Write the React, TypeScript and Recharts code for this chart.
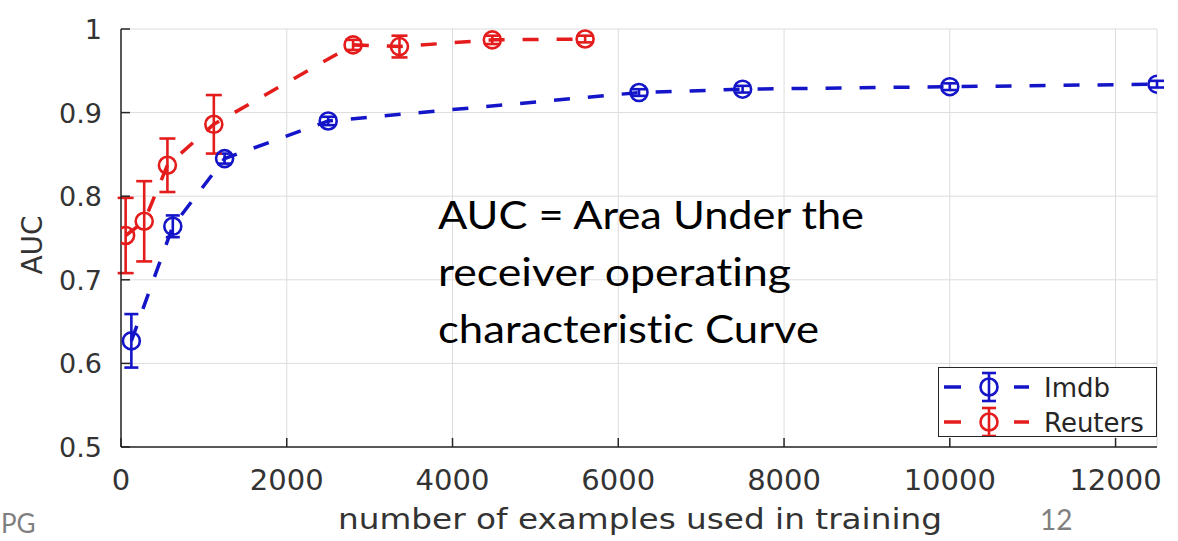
import { CartesianGrid, ComposedChart, ErrorBar, Line, XAxis, YAxis } from "recharts";

const imdbSizes = [125, 625, 1250, 2500, 6250, 7500, 10000, 12500];
const imdbAuc = [0.627, 0.764, 0.845, 0.89, 0.924, 0.928, 0.931, 0.934];
const imdbErr = [0.032, 0.013, 0.006, 0.005, 0.004, 0.004, 0.004, 0.004];

const reutersSizes = [56, 280, 560, 1120, 2800, 3360, 4480, 5600];
const reutersAuc = [0.753, 0.77, 0.837, 0.886, 0.981, 0.979, 0.987, 0.988];
const reutersErr = [0.045, 0.048, 0.032, 0.035, 0.006, 0.013, 0.005, 0.004];

const xTicks = [0, 2000, 4000, 6000, 8000, 10000, 12000];
const yTicks = [0.5, 0.6, 0.7, 0.8, 0.9, 1];

const noteLines = ["AUC = Area Under the", "receiver operating", "characteristic Curve"];
const noteWidths = [426, 353, 381];

const BLUE = "#1414c8";
const RED = "#e41c1c";
const AXIS = "#262626";
const TICK_FONT = "'DejaVu Sans', sans-serif";
const NOTE_FONT = "Lato, sans-serif";

const imdbData = imdbSizes.map((x, i) => ({ x, auc: imdbAuc[i], err: imdbErr[i] }));
const reutersData = reutersSizes.map((x, i) => ({ x, auc: reutersAuc[i], err: reutersErr[i] }));

const XTick = ({ x, y, payload }: any) => (
    <g>
        <line x1={x} x2={x} y1={y} y2={y - 9} stroke={AXIS} strokeWidth={1.5} />
        <text x={x} y={y + 43} textAnchor="middle" fontSize={29} fill="#333" fontFamily={TICK_FONT}>
            {payload.value}
        </text>
    </g>
);

const YTick = ({ x, y, payload }: any) => (
    <g>
        <line x1={x} x2={x + 9} y1={y} y2={y} stroke={AXIS} strokeWidth={1.5} />
        <text x={x - 19} y={y + 10} textAnchor="end" fontSize={27} fill="#333" fontFamily={TICK_FONT}>
            {payload.value}
        </text>
    </g>
);

const circleDot = (color: string) => (props: any) => {
    const { cx, cy, index } = props;
    return <circle key={index} cx={cx} cy={cy} r={8.5} fill="none" stroke={color} strokeWidth={2.6} />;
};

const LegendRow = ({ y, color, label }: { y: number; color: string; label: string }) => (
    <g>
        <line x1={5} x2={22} y1={y} y2={y} stroke={color} strokeWidth={3.5} />
        <line x1={50} x2={50} y1={y - 14} y2={y + 14} stroke={color} strokeWidth={2.6} />
        <line x1={43} x2={57} y1={y - 14} y2={y - 14} stroke={color} strokeWidth={2.6} />
        <line x1={43} x2={57} y1={y + 14} y2={y + 14} stroke={color} strokeWidth={2.6} />
        <circle cx={50} cy={y} r={8.5} fill="none" stroke={color} strokeWidth={2.6} />
        <line x1={75} x2={90} y1={y} y2={y} stroke={color} strokeWidth={3.5} />
        <text x={105} y={y + 9.5} fontSize={26} fill={AXIS} fontFamily={TICK_FONT}>{label}</text>
    </g>
);

export default function App() {
    return (
        <div style={{ position: "absolute", left: 0, top: 0, width: 1178, height: 541, background: "#fff" }}>
            <ComposedChart width={1178} height={541} margin={{ top: 29, right: 21, bottom: 0, left: 0 }}>
                <CartesianGrid stroke="#dcdcdc" strokeWidth={1} />
                <XAxis
                    type="number"
                    dataKey="x"
                    domain={[0, 12500]}
                    ticks={xTicks}
                    height={94}
                    axisLine={{ stroke: AXIS, strokeWidth: 1.5 }}
                    tickLine={false}
                    tickSize={0}
                    tickMargin={0}
                    tick={<XTick />}
                    allowDataOverflow
                />
                <YAxis
                    type="number"
                    domain={[0.5, 1]}
                    ticks={yTicks}
                    width={121}
                    axisLine={{ stroke: AXIS, strokeWidth: 1.5 }}
                    tickLine={false}
                    tickSize={0}
                    tickMargin={0}
                    tick={<YTick />}
                    allowDataOverflow
                    label={({ viewBox }: any) => {
                        const cy = viewBox.y + viewBox.height / 2 + 7;
                        return (
                            <text x={42} y={cy} transform={`rotate(-90 42 ${cy})`} textAnchor="middle" fontSize={28} fill="#333" fontFamily={TICK_FONT}>
                                AUC
                            </text>
                        );
                    }}
                />
                <Line data={imdbData} dataKey="auc" name="Imdb" stroke={BLUE} strokeWidth={3.5} strokeDasharray="16 18"
                    dot={circleDot(BLUE)} activeDot={false} isAnimationActive={false}>
                    <ErrorBar dataKey="err" direction="y" width={7} stroke={BLUE} strokeWidth={2.6} isAnimationActive={false} />
                </Line>
                <Line data={reutersData} dataKey="auc" name="Reuters" stroke={RED} strokeWidth={3.5} strokeDasharray="16 18"
                    dot={circleDot(RED)} activeDot={false} isAnimationActive={false}>
                    <ErrorBar dataKey="err" direction="y" width={8} stroke={RED} strokeWidth={2.6} isAnimationActive={false} />
                </Line>
            </ComposedChart>

            <div style={{ position: "absolute", left: 938, top: 367, width: 217, height: 68, border: `1.5px solid ${AXIS}`, background: "#fff" }}>
                <svg width={217} height={68} style={{ display: "block" }}>
                    <LegendRow y={19} color={BLUE} label="Imdb" />
                    <LegendRow y={54} color={RED} label="Reuters" />
                </svg>
            </div>

            <svg width={1178} height={541} style={{ position: "absolute", left: 0, top: 0, pointerEvents: "none" }}>
                <g fontFamily={NOTE_FONT} fontSize={39} fill="#000" style={{ fontVariantLigatures: "none" }}>
                    {noteLines.map((line, i) => (
                        <text key={line} x={438} y={229 + i * 57} textLength={noteWidths[i]} lengthAdjust="spacingAndGlyphs">
                            {line}
                        </text>
                    ))}
                </g>
                <text x={1} y={533} fontFamily={NOTE_FONT} fontSize={26} fill="#7f7f7f">PG</text>
                <text x={1040} y={530} fontFamily={NOTE_FONT} fontSize={28} fill="#7f7f7f">12</text>
                <text x={338} y={529} fontFamily={TICK_FONT} fontSize={28} fill="#333" textLength={604} lengthAdjust="spacingAndGlyphs">
                    number of examples used in training
                </text>
            </svg>
        </div>
    );
}
